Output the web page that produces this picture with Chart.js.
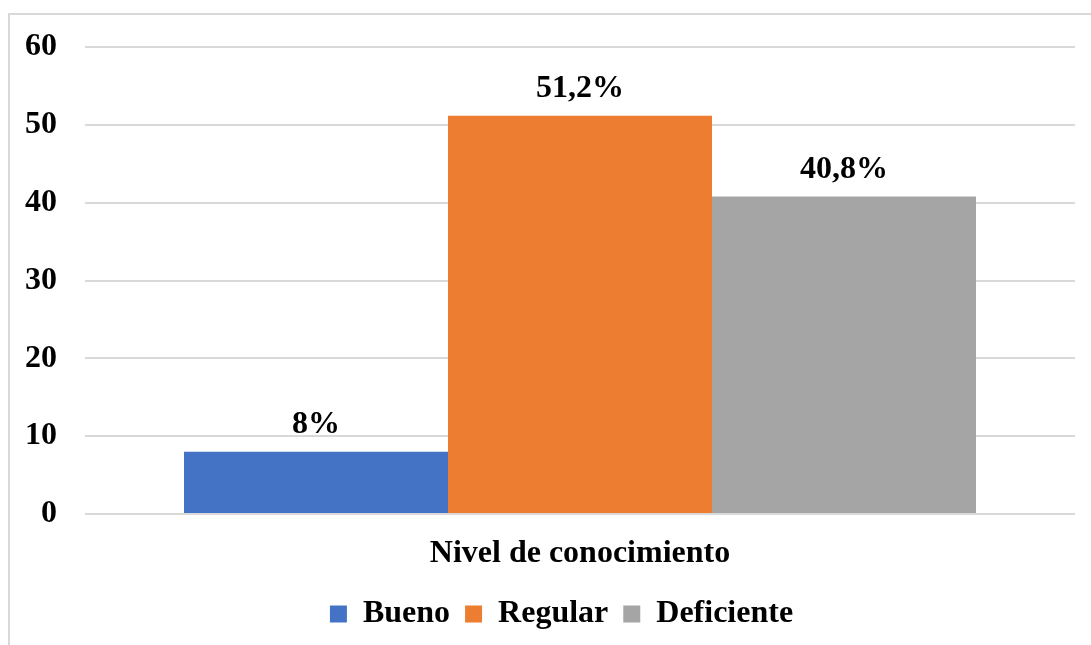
<!DOCTYPE html>
<html>
<head>
<meta charset="utf-8">
<script src="https://cdn.jsdelivr.net/npm/chart.js@4/dist/chart.umd.min.js"></script>
<style>
  html, body { margin: 0; padding: 0; background: #fff; overflow: hidden; }
  #frame { position: absolute; left: 8px; top: 13px; width: 1200px; height: 700px;
           border-left: 2px solid #d9d9d9; border-top: 2px solid #d9d9d9; }
  #wrap { position: absolute; left: 0; top: 0; width: 1091px; height: 645px; }
</style>
</head>
<body>
<div id="frame"></div>
<div id="wrap"><canvas id="c" width="1091" height="645"></canvas></div>
<script>
const categories = ['Nivel de conocimiento'];
const seriesNames = ['Bueno', 'Regular', 'Deficiente'];
const seriesValues = [[8], [51.2], [40.8]];
const dataLabels = ['8%', '51,2%', '40,8%'];
const seriesColors = ['#4472C4', '#ED7D31', '#A5A5A5'];
const yTicks = [0, 10, 20, 30, 40, 50, 60];

const FONT = "'Liberation Serif', 'Times New Roman', serif";
const FS = 32;
const LEGEND_SHIFT = 48;

const labelPlugin = {
  id: 'barLabels',
  afterLayout(chart) {
    if (chart.legend) chart.legend.left += LEGEND_SHIFT;
  },
  afterDatasetsDraw(chart) {
    const ctx = chart.ctx;
    ctx.save();
    ctx.font = 'bold ' + FS + 'px ' + FONT;
    ctx.fillStyle = '#000';
    ctx.textAlign = 'center';
    ctx.textBaseline = 'alphabetic';
    chart.data.datasets.forEach((ds, i) => {
      const meta = chart.getDatasetMeta(i);
      meta.data.forEach((bar) => {
        ctx.fillText(dataLabels[i], bar.x, bar.y - 19);
      });
    });
    ctx.restore();
  }
};

new Chart(document.getElementById('c'), {
  type: 'bar',
  data: {
    labels: categories,
    datasets: seriesNames.map((n, i) => ({
      label: n,
      data: seriesValues[i],
      backgroundColor: seriesColors[i],
      borderWidth: 0,
      categoryPercentage: 0.8,
      barPercentage: 1.0
    }))
  },
  options: {
    responsive: false,
    animation: false,
    layout: { padding: { top: 44, right: 16, bottom: 5, left: 0 } },
    plugins: {
      tooltip: { enabled: false },
      legend: {
        position: 'bottom',
        labels: {
          font: { family: FONT, size: FS, weight: 'bold' },
          color: '#000',
          boxWidth: 17,
          boxHeight: 17,
          padding: 15
        }
      }
    },
    scales: {
      x: {
        grid: { display: false },
        border: { display: false },
        ticks: { font: { family: FONT, size: FS, weight: 'bold' }, color: '#000', padding: 13 },
        afterFit(s) { s.height = 69; }
      },
      y: {
        min: 0, max: 60,
        afterBuildTicks(s) { s.ticks = yTicks.map(v => ({ value: v })); },
        grid: { color: '#d9d9d9', lineWidth: 2, drawTicks: false },
        border: { display: false },
        ticks: { font: { family: FONT, size: FS, weight: 'bold' }, color: '#000', padding: 28 },
        afterFit(s) { s.width = 85; }
      }
    }
  },
  plugins: [labelPlugin]
});
</script>
</body>
</html>
